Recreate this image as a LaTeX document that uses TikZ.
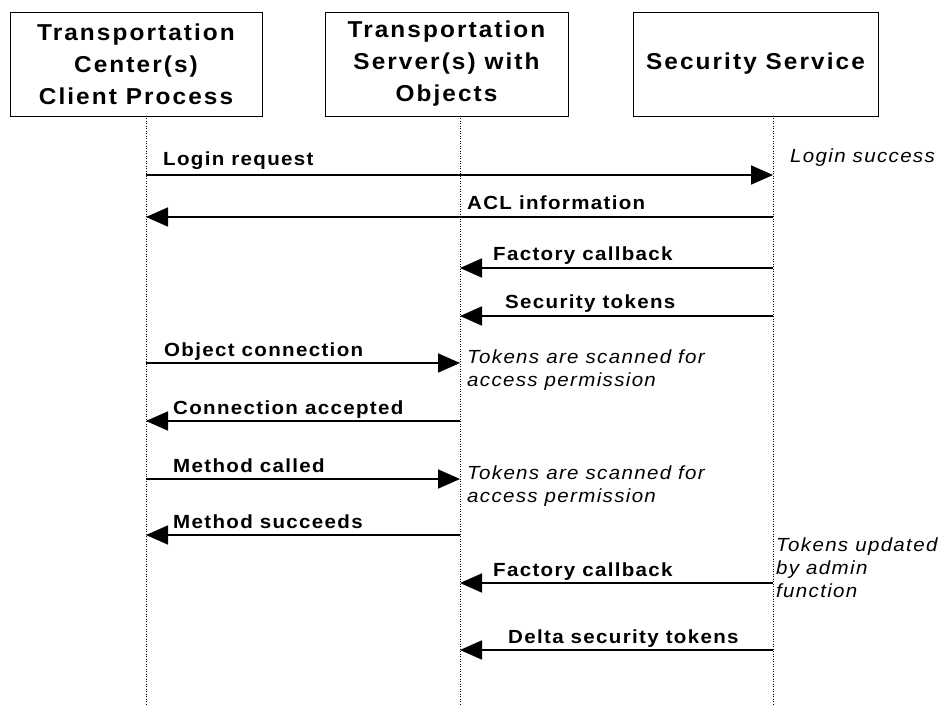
\documentclass[tikz,border=0pt]{standalone}
\usepackage{fontspec}
\setmainfont{Liberation Sans}
\newfontfamily\boxfont{Liberation Sans}[FakeStretch=1.06,LetterSpace=9]
\newfontfamily\msgfont{Liberation Sans}[FakeStretch=1.08,LetterSpace=7]
\usepackage{tikz}
\usetikzlibrary{arrows.meta}
\usetikzlibrary{positioning}

\tikzset{
  actor/.style={draw,line width=0.8pt,minimum height=104pt,inner sep=0pt,align=center,
    font=\boxfont\bfseries\fontsize{23}{32}\selectfont},
  life/.style={line width=0.8pt,dash pattern=on 1pt off 1.5pt},
  msg/.style={line width=1.8pt,-{Triangle[length=22pt,width=19pt]}},
  lbl/.style={anchor=base west,inner sep=0pt,font=\msgfont\bfseries\fontsize{19}{22}\selectfont},
  note/.style={anchor=base west,inner sep=0pt,align=left,font=\msgfont\itshape\fontsize{19}{23}\selectfont}
}

\begin{document}
\begin{tikzpicture}[x=1pt,y=-1pt]
\useasboundingbox (0,0) rectangle (943,706);
\node[actor,minimum width=252pt] (tc) at (136,64) {Transportation\\Center(s)\\Client Process};
\node[actor,minimum width=243pt] (ts) at (446.5,64) {Transportation\\Server(s) with\\Objects};
\node[actor,minimum width=245pt] (ss) at (755.5,64) {Security Service};
\coordinate (l1) at (146,116);
\coordinate (l2) at (460,116);
\coordinate (l3) at (773,116);
\draw[life] (l1) -- (l1 |- 0,706);
\draw[life] (l2) -- (l2 |- 0,706);
\draw[life] (l3) -- (l3 |- 0,706);
% messages
\draw[msg] (l1 |- 0,175) -- (l3 |- 0,175);
\draw[msg] (l3 |- 0,217) -- (l1 |- 0,217);
\draw[msg] (l3 |- 0,268) -- (l2 |- 0,268);
\draw[msg] (l3 |- 0,316) -- (l2 |- 0,316);
\draw[msg] (l1 |- 0,363) -- (l2 |- 0,363);
\draw[msg] (l2 |- 0,421) -- (l1 |- 0,421);
\draw[msg] (l1 |- 0,479) -- (l2 |- 0,479);
\draw[msg] (l2 |- 0,535) -- (l1 |- 0,535);
\draw[msg] (l3 |- 0,583) -- (l2 |- 0,583);
\draw[msg] (l3 |- 0,650) -- (l2 |- 0,650);
% labels
\node[lbl] (m1) at (163,166) {Login request};
\node[lbl] (m2) at (467,210) {ACL information};
\node[lbl] (m3) at (493,260) {Factory callback};
\node[lbl] (m4) at (505,308) {Security tokens};
\node[lbl] (m5) at (164,356) {Object connection};
\node[lbl] (m6) at (173,414) {Connection accepted};
\node[lbl] (m7) at (173,472) {Method called};
\node[lbl] (m8) at (173,528) {Method succeeds};
\node[lbl] (m9) at (493,576) {Factory callback};
\node[lbl] (m10) at (508,643) {Delta security tokens};
% notes (base = last line)
\node[note] (n1) at (790,163) {Login success};
\node[note] (n2) at (467,386) {Tokens are scanned for\\access permission};
\node[note] (n3) at (467,502) {Tokens are scanned for\\access permission};
\node[note] (n4) at (776,597) {Tokens updated\\by admin\\function};
\end{tikzpicture}
\end{document}
